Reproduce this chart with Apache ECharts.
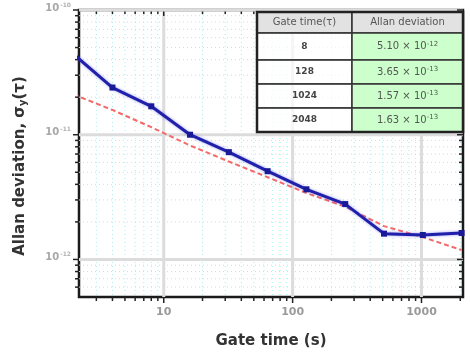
<!DOCTYPE html>
<html>
<head>
<meta charset="utf-8">
<script src="https://cdn.jsdelivr.net/npm/echarts@6/dist/echarts.min.js"></script>
<style>
  html, body { margin: 0; padding: 0; background: #fff; }
  #chart { width: 470px; height: 356px; }
</style>
</head>
<body>
<div id="chart"></div>
<script>
// gate times (s) and Allan deviation
const taus = [2, 4, 8, 16, 32, 64, 128, 256, 512, 1024, 2048];
const measured = [4.4e-11, 2.39e-11, 1.69e-11, 1.0e-11, 7.25e-12, 5.1e-12, 3.65e-12, 2.78e-12, 1.61e-12, 1.57e-12, 1.63e-12];
const reference = [2.1e-11, 1.58e-11, 1.15e-11, 8.2e-12, 6.1e-12, 4.56e-12, 3.41e-12, 2.65e-12, 1.85e-12, 1.51e-12, 1.19e-12];

const xMajorTicks = [10, 100, 1000];
const xMajorLabels = ['10', '100', '1000'];
const yMajorTicks = [1e-12, 1e-11, 1e-10];
const yMajorExp = ['-12', '-11', '-10'];
const minorFactors = [2, 3, 4, 5, 6, 7, 8, 9];
const xDecades = [1, 10, 100, 1000];
const yDecades = [1e-13, 1e-12, 1e-11];

const tableHead = ['Gate time(\u03c4)', 'Allan deviation'];
const tableGate = ['8', '128', '1024', '2048'];
const tableMantissa = ['5.10', '3.65', '1.57', '1.63'];
const tableExp = ['-12', '-13', '-13', '-13'];

const X_MIN = 2.2, X_MAX = 2100, Y_MIN = 5e-13, Y_MAX = 1e-10;
const FONT = '"DejaVu Sans", Verdana, sans-serif';

function minorList(decades, lo, hi) {
  const out = [];
  decades.forEach(d => minorFactors.forEach(f => {
    const v = f * d;
    if (v > lo && v < hi) out.push(v);
  }));
  return out;
}
const xMinor = minorList(xDecades, X_MIN, X_MAX);
const yMinor = minorList(yDecades, Y_MIN, Y_MAX);

const chart = echarts.init(document.getElementById('chart'));

function xDeco(major) {
  return function (params, api) {
    const cs = params.coordSys;
    const x = api.coord([api.value(0), Y_MIN])[0];
    const b = cs.y + cs.height;
    const len = major ? 6 : 4;
    const kids = [
      { type: 'line', shape: { x1: x, y1: cs.y, x2: x, y2: b },
        style: major ? { stroke: '#dcdcdc', lineWidth: 3 } : { stroke: '#a8eef0', lineWidth: 1, lineDash: [1, 3] } },
      { type: 'line', shape: { x1: x, y1: b, x2: x, y2: b + len }, style: { stroke: '#222', lineWidth: 1.5 } },
      { type: 'line', shape: { x1: x, y1: cs.y, x2: x, y2: cs.y + len }, style: { stroke: '#222', lineWidth: 1.5 } }
    ];
    if (major) {
      kids.push({ type: 'text', x: x, y: b + 10,
        style: { text: xMajorLabels[params.dataIndex], fill: '#9a9a9a', font: 'bold 11px ' + FONT, align: 'center', verticalAlign: 'top' } });
    }
    return { type: 'group', children: kids };
  };
}

function yDeco(major) {
  return function (params, api) {
    const cs = params.coordSys;
    const y = api.coord([X_MIN, api.value(1)])[1];
    const r = cs.x + cs.width;
    const len = major ? 6 : 4;
    const kids = [
      { type: 'line', shape: { x1: cs.x, y1: y, x2: r, y2: y },
        style: major ? { stroke: '#dcdcdc', lineWidth: 3 } : { stroke: '#a8eef0', lineWidth: 1, lineDash: [1, 3] } },
      { type: 'line', shape: { x1: cs.x - len, y1: y, x2: cs.x, y2: y }, style: { stroke: '#222', lineWidth: 1.5 } },
      { type: 'line', shape: { x1: r - len, y1: y, x2: r, y2: y }, style: { stroke: '#222', lineWidth: 1.5 } }
    ];
    if (major) {
      kids.push({ type: 'text', x: cs.x - 8, y: y - 2,
        style: { text: '{b|10}{s|' + yMajorExp[params.dataIndex] + '}', align: 'right', verticalAlign: 'middle',
          rich: { b: { fill: '#a8a8a8', fontSize: 10, fontWeight: 'bold', fontFamily: FONT },
                  s: { fill: '#b0b0b0', fontSize: 6, fontWeight: 'bold', fontFamily: FONT, verticalAlign: 'top', padding: [0, 0, 6, 1] } } } });
    }
    return { type: 'group', children: kids };
  };
}

// table layout
const colX = [257, 352, 463];
const rowY = [12, 33, 60, 84, 108, 132];
const TZ = 100;
const tableEls = [];
for (let r = 0; r < 5; r++) {
  for (let c = 0; c < 2; c++) {
    const fill = r === 0 ? '#e2e2e2' : (c === 1 ? '#ccffcc' : 'rgba(255,255,255,0.7)');
    tableEls.push({ type: 'rect', z: TZ, shape: { x: colX[c], y: rowY[r], width: colX[c + 1] - colX[c], height: rowY[r + 1] - rowY[r] },
      style: { fill: fill, stroke: '#333', lineWidth: 1.5 } });
    let st;
    const cx = (colX[c] + colX[c + 1]) / 2, cy = (rowY[r] + rowY[r + 1]) / 2;
    if (r === 0) {
      st = { text: tableHead[c], fill: '#555', fontSize: 10, fontFamily: FONT, align: 'center', verticalAlign: 'middle' };
    } else if (c === 0) {
      st = { text: tableGate[r - 1], fill: '#444', fontSize: 9, fontWeight: 'bold', fontFamily: FONT, align: 'center', verticalAlign: 'middle' };
    } else {
      st = { text: '{m|' + tableMantissa[r - 1] + ' \u00d7 10}{s|' + tableExp[r - 1] + '}', align: 'center', verticalAlign: 'middle',
        rich: { m: { fill: '#555', fontSize: 10, fontFamily: FONT },
                s: { fill: '#555', fontSize: 7, fontFamily: FONT, verticalAlign: 'top', padding: [0, 0, 5, 0] } } };
    }
    tableEls.push({ type: 'text', z: TZ + 1, x: cx, y: cy, style: st });
  }
}
tableEls.push({ type: 'rect', z: TZ + 2, shape: { x: colX[0], y: rowY[0], width: colX[2] - colX[0], height: rowY[5] - rowY[0] },
  style: { fill: 'none', stroke: '#222', lineWidth: 2.5 } });

const option = {
  animation: false,
  grid: { left: 79, right: 7, top: 10, bottom: 59, show: true, backgroundColor: '#fff', borderColor: '#1a1a1a', borderWidth: 2.5 },
  xAxis: {
    type: 'log', min: X_MIN, max: X_MAX,
    axisLine: { show: false }, axisTick: { show: false }, axisLabel: { show: false }, splitLine: { show: false },
    name: 'Gate time (s)', nameLocation: 'middle', nameGap: 37,
    nameTextStyle: { fontWeight: 'bold', fontSize: 15, color: '#333', fontFamily: FONT }
  },
  yAxis: {
    type: 'log', min: Y_MIN, max: Y_MAX,
    axisLine: { show: false }, axisTick: { show: false }, axisLabel: { show: false }, splitLine: { show: false }
  },
  series: [
    { type: 'custom', z: 1, silent: true, renderItem: xDeco(false), data: xMinor.map(v => [v, Y_MIN]), encode: { x: 0, y: 1 } },
    { type: 'custom', z: 1, silent: true, renderItem: yDeco(false), data: yMinor.map(v => [X_MIN, v]), encode: { x: 0, y: 1 } },
    { type: 'custom', z: 2, silent: true, renderItem: xDeco(true), data: xMajorTicks.map(v => [v, Y_MIN]), encode: { x: 0, y: 1 } },
    { type: 'custom', z: 2, silent: true, renderItem: yDeco(true), data: yMajorTicks.map(v => [X_MIN, v]), encode: { x: 0, y: 1 } },
    {
      type: 'line', z: 4, clip: true, symbol: 'none',
      data: taus.map((t, i) => [t, reference[i]]),
      lineStyle: { color: '#f46a6a', width: 2, type: [5, 3] }
    },
    {
      type: 'line', z: 5, clip: true, symbol: 'rect', symbolSize: 6,
      data: taus.map((t, i) => [t, measured[i]]),
      lineStyle: { color: '#2020aa', width: 3, shadowColor: 'rgba(60,60,230,0.5)', shadowBlur: 3 },
      itemStyle: { color: '#1a1a99' }
    }
  ],
  graphic: { elements: [
    { type: 'group', z: TZ, children: tableEls },
    { type: 'text', z: TZ, x: 20, y: 166, rotation: Math.PI / 2,
      style: { text: '{t|Allan deviation, \u03c3}{u|y}{t|(\u03c4)}', align: 'center', verticalAlign: 'middle',
        rich: {
          t: { fontWeight: 'bold', fontSize: 15, fill: '#333', fontFamily: FONT },
          u: { fontWeight: 'bold', fontSize: 10, fill: '#333', fontFamily: FONT, verticalAlign: 'bottom', padding: [6, 0, 0, 0] }
        } } }
  ] }
};
chart.setOption(option);
</script>
</body>
</html>
